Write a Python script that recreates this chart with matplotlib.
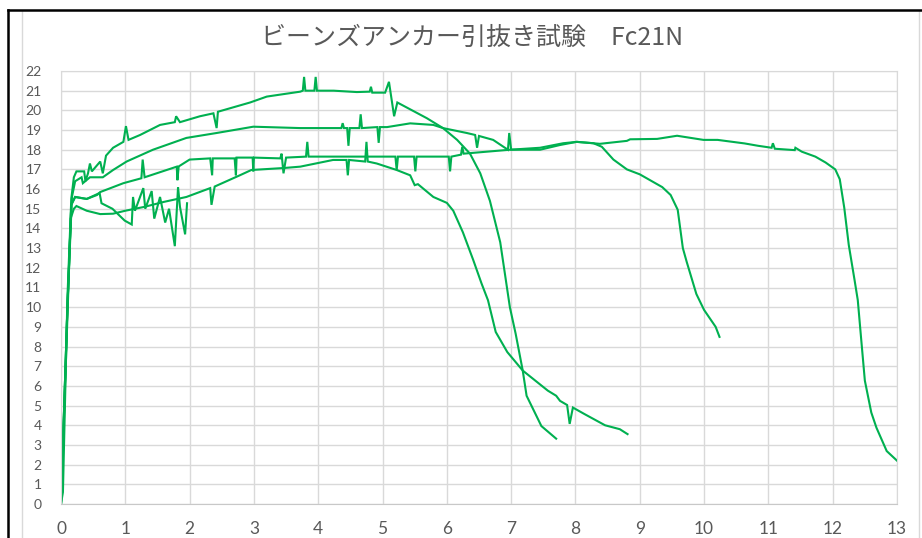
import matplotlib
matplotlib.use("Agg")
import matplotlib.pyplot as plt
from matplotlib.lines import Line2D

# --- data (x: displacement, y: load) ---
a_x = [0, 0.03, 0.1, 0.16, 0.2, 0.24, 0.36, 0.38, 0.42, 0.45, 0.48, 0.61, 0.65, 0.70, 0.81, 0.97, 1.01, 1.05,
       1.23, 1.54, 1.77, 1.79, 1.85, 2.16, 2.37, 2.42, 2.44, 2.94, 3.20, 3.72, 3.76, 3.78, 3.80, 3.94, 3.96,
       3.98, 4.24, 4.6, 4.8, 4.82, 4.84, 5.04, 5.1, 5.18, 5.23, 5.69, 5.94, 6.16, 6.36, 6.52, 6.67, 6.83,
       6.98, 7.07, 7.18, 7.24, 7.47, 7.70]
a_y = [0, 0.6, 10.5, 15.5, 16.6, 16.9, 16.9, 16.4, 16.8, 17.3, 16.9, 17.4, 16.8, 17.7, 18.1, 18.4, 19.2, 18.5,
       18.75, 19.26, 19.4, 19.7, 19.4, 19.7, 19.85, 19.1, 19.93, 20.4, 20.7, 20.95, 21.0, 21.7, 21.0, 21.0, 21.7,
       21.0, 21.0, 20.93, 20.95, 21.2, 20.9, 20.9, 21.45, 19.7, 20.4, 19.6, 19.1, 18.5, 17.8, 16.8, 15.4, 13.3,
       10.0, 8.65, 6.78, 5.5, 3.96, 3.32]

b_x = [0, 0.1, 0.17, 0.22, 0.32, 0.34, 0.45, 0.65, 0.81, 1.02, 1.43, 1.95, 2.42, 2.99, 3.72, 4.36, 4.38, 4.40,
       4.45, 4.47, 4.49, 4.64, 4.66, 4.68, 4.92, 4.94, 4.96, 5.07, 5.43, 5.79, 5.94, 6.31, 6.44, 6.47, 6.50,
       6.72, 6.88, 6.95, 6.97, 7.0, 7.45, 7.76, 8.02, 8.28, 8.41, 8.59, 8.80, 9.0, 9.35, 9.48, 9.59, 9.67, 9.73,
       9.88, 10.0, 10.18, 10.24]
b_y = [0, 10, 15.6, 16.4, 16.6, 16.3, 16.6, 16.6, 16.97, 17.4, 18.0, 18.6, 18.85, 19.17, 19.1, 19.1, 19.35, 19.1,
       19.1, 18.2, 19.1, 19.1, 19.8, 19.1, 19.15, 18.35, 19.15, 19.15, 19.34, 19.26, 19.1, 18.85, 18.75, 18.1, 18.7,
       18.5, 18.15, 18.0, 18.85, 18.0, 18.0, 18.24, 18.4, 18.33, 18.15, 17.5, 17.0, 16.75, 16.1, 15.7, 14.95,
       13.0, 12.3, 10.67, 9.86, 9.0, 8.49]

c_x = [0, 0.1, 0.16, 0.22, 0.4, 0.56, 0.61, 0.65, 0.97, 1.25, 1.27, 1.3, 1.8, 1.81, 1.83, 2.0, 2.32, 2.35, 2.36,
       2.70, 2.72, 2.73, 2.98, 2.99, 3.0, 3.41, 3.43, 3.46, 3.50, 3.81, 3.83, 3.85, 5.20, 5.22, 5.24, 5.49, 5.51,
       5.53, 6.03, 6.05, 6.07, 6.22, 6.24, 6.26, 6.98, 7.45, 7.81, 8.02, 8.38, 8.80, 8.85, 9.27, 9.58, 9.99,
       10.21, 10.63, 10.84, 11.05, 11.07, 11.1, 11.41, 11.42, 11.52, 11.73, 11.89, 12.04, 12.11, 12.18, 12.25,
       12.34, 12.39, 12.44, 12.50, 12.6, 12.68, 12.84, 13.04]
c_y = [0, 10, 15.2, 15.6, 15.5, 15.7, 15.85, 15.9, 16.3, 16.55, 17.5, 16.6, 17.14, 16.45, 17.15, 17.5, 17.56, 16.7,
       17.56, 17.56, 16.7, 17.6, 17.6, 16.9, 17.6, 17.56, 17.8, 16.8, 17.6, 17.65, 18.4, 17.65, 17.65, 16.97, 17.65,
       17.65, 16.9, 17.65, 17.65, 16.9, 17.65, 17.75, 18.15, 17.8, 18.0, 18.1, 18.33, 18.4, 18.3, 18.45, 18.53,
       18.55, 18.71, 18.5, 18.5, 18.32, 18.2, 18.1, 18.33, 18.05, 17.98, 18.1, 17.9, 17.65, 17.35, 17.0, 16.5,
       15.05, 13.16, 11.38, 10.36, 8.49, 6.27, 4.65, 3.88, 2.69, 2.08]

d_x = [0, 0.1, 0.15, 0.2, 0.24, 0.4, 0.61, 0.81, 1.0, 1.3, 1.6, 1.95, 2.32, 2.34, 2.39, 2.78, 2.96, 3.46, 3.72,
       4.23, 4.44, 4.46, 4.48, 4.73, 4.75, 4.77, 4.91, 5.22, 5.43, 5.5, 5.55, 5.79, 6.0, 6.1, 6.25, 6.41, 6.54,
       6.64, 6.76, 6.94, 7.18, 7.57, 7.70, 7.76, 7.87, 7.91, 7.96, 8.14, 8.46, 8.69, 8.81]
d_y = [0, 9.5, 14.5, 15.0, 15.14, 14.9, 14.73, 14.75, 14.9, 15.1, 15.35, 15.6, 16.05, 15.2, 16.13, 16.7, 16.97,
       17.07, 17.14, 17.48, 17.48, 16.7, 17.48, 17.4, 18.4, 17.4, 17.3, 16.97, 16.7, 16.2, 16.25, 15.6, 15.3,
       14.9, 13.8, 12.4, 11.2, 10.35, 8.74, 7.72, 6.78, 5.76, 5.5, 5.24, 5.03, 4.07, 4.9, 4.57, 4.0, 3.8, 3.55]

# jagged specimen that stops just before x = 2
e_x = [0, 0.1, 0.16, 0.22, 0.4, 0.6, 0.63, 0.8, 0.99, 1.1, 1.12, 1.15, 1.28, 1.31, 1.41, 1.45, 1.54, 1.62, 1.68,
       1.77, 1.82, 1.85, 1.93, 1.96]
e_y = [0, 10, 15.2, 15.6, 15.5, 15.8, 15.28, 15.0, 14.4, 14.2, 15.6, 14.9, 16.05, 15.0, 15.9, 14.5, 15.6, 14.3,
       15.0, 13.1, 16.1, 15.1, 13.7, 15.28]

x_ticks = list(range(0, 14))
y_ticks = list(range(0, 23))
title = "ビーンズアンカー引抜き試験　Fc21N"

green = "#00B050"
grid_c = "#D9D9D9"
text_c = "#595959"

fig = plt.figure(figsize=(9.22, 5.38), dpi=100)
ax = fig.add_axes([61 / 922, 34 / 538, 836 / 922, 433 / 538])

for xs, ys in [(d_x, d_y), (e_x, e_y), (c_x, c_y), (b_x, b_y), (a_x, a_y)]:
    ax.plot(xs, ys, color=green, lw=1.5, solid_joinstyle="miter")

ax.set_xlim(0, 13)
ax.set_ylim(0, 22)
ax.set_xticks(x_ticks)
ax.set_yticks(y_ticks)
ax.grid(True, color=grid_c, lw=1.0)
ax.set_axisbelow(True)
for side in ["top", "right", "left"]:
    ax.spines[side].set_color(grid_c)
ax.spines["bottom"].set_color("#C8C8C8")
ax.tick_params(length=0, colors=text_c)
ax.tick_params(axis="y", pad=14, labelsize=10)
ax.tick_params(axis="x", pad=12, labelsize=12.5)
for lab in ax.get_xticklabels() + ax.get_yticklabels():
    lab.set_family(["Lato", "DejaVu Sans"])

fig.text(472 / 922, 1 - 38 / 538, title, ha="center", va="center", fontsize=18, color=text_c,
         family=["Noto Sans CJK JP", "DejaVu Sans"])

# outer frame of the pasted chart
W, H = 922, 538
fig.add_artist(Line2D([22 / W, 22 / W], [0, 1 - 11 / H], color="#D9D9D9", lw=1, transform=fig.transFigure))
fig.add_artist(Line2D([919 / W, 919 / W], [0, 1 - 11 / H], color="#D9D9D9", lw=1, transform=fig.transFigure))
fig.add_artist(Line2D([8 / W, 1], [1 - 10 / H, 1 - 10 / H], color="black", lw=1.8, transform=fig.transFigure))
fig.add_artist(Line2D([8 / W, 8 / W], [0, 1 - 10 / H], color="black", lw=1.8, transform=fig.transFigure))

fig.savefig("out.png", dpi=100)
